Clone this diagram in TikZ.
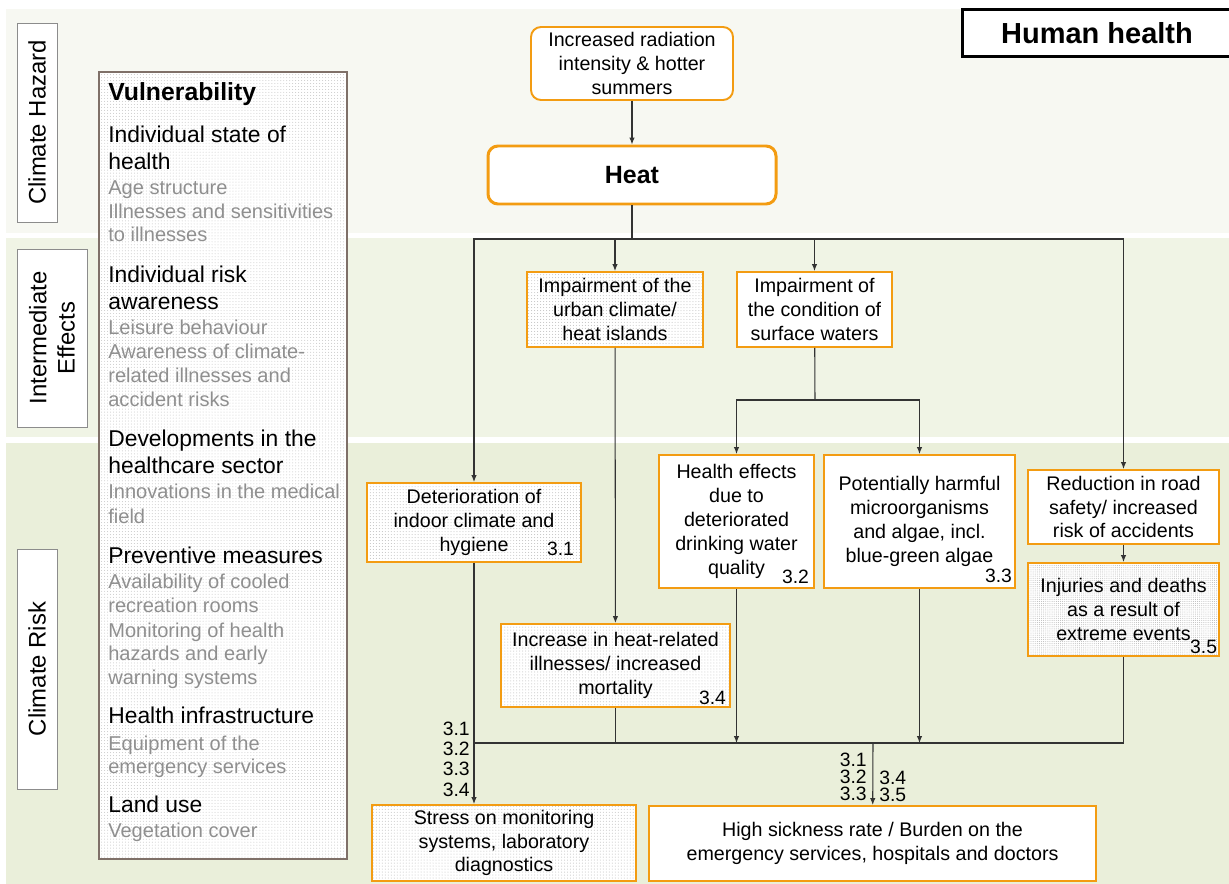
\documentclass[tikz,border=0pt]{standalone}
\usepackage{fontspec}
\setmainfont{Liberation Sans}
\usetikzlibrary{positioning, calc, arrows.meta, patterns.meta}
\definecolor{hazardbg}{HTML}{F7F8F2}
\definecolor{effectbg}{HTML}{F0F4E5}
\definecolor{riskbg}{HTML}{EAEFDA}
\definecolor{boxorange}{HTML}{F39C12}
\definecolor{vulframe}{HTML}{7F7068}
\definecolor{itemgrey}{HTML}{8F8F8F}
\definecolor{flowline}{HTML}{333333}
\tikzset{
    px/.style={x=0.02cm, y=-0.02cm},
    boxsize/.style 2 args={minimum width=#1*0.02cm, minimum height=#2*0.02cm},
    band label/.style={draw=black!45, fill=white, rotate=90, align=center, inner sep=0pt, font=\fontsize{13.6}{16}\selectfont},
    hazard node/.style={draw=boxorange, fill=white, line width=1.1pt, rounded corners=0.2cm, align=center, inner sep=0pt, font=\fontsize{11.2}{13.6}\selectfont},
    effect node/.style={draw=boxorange, fill=white, line width=1.1pt, align=center, inner sep=0pt, font=\fontsize{11.2}{13.6}\selectfont},
    dotted node/.style={draw=boxorange, line width=1.1pt, align=center, inner sep=0pt, font=\fontsize{11.2}{13.6}\selectfont, preaction={fill=white}, pattern={Dots[distance=1.7pt, radius=0.28pt]}, pattern color=black!25},
    dense node/.style={dotted node, pattern={Dots[distance=1.2pt, radius=0.28pt]}, pattern color=black!28},
    title node/.style={draw=black, fill=white, line width=1.7pt, inner sep=0pt, font=\fontsize{16.5}{19}\selectfont\bfseries},
    risk no/.style={anchor=south east, inner sep=1.5pt, font=\fontsize{11}{12}\selectfont},
    link no/.style={inner sep=0pt, align=right, font=\fontsize{11}{11.6}\selectfont},
    vtitle/.style={anchor=base west, inner sep=0pt, font=\fontsize{14.1}{17}\selectfont\bfseries},
    vhead/.style={anchor=base west, inner sep=0pt, font=\fontsize{13}{15}\selectfont},
    vitem/.style={anchor=base west, inner sep=0pt, text=itemgrey, font=\fontsize{11.4}{13.6}\selectfont},
    flow/.style={draw=flowline, line width=0.6pt},
    arrow/.style={flow, -{Latex[length=1.4mm, width=1.1mm]}},
}

\begin{document}
\begin{tikzpicture}[px]
    \useasboundingbox (0,0) rectangle (1229,884);
    % bands
    \fill[hazardbg] (6,9) rectangle (1229,233);
    \fill[effectbg] (6,238) rectangle (1229,437);
    \fill[riskbg] (6,443) rectangle (1229,884);
    \node[band label, boxsize={199}{40}] (hazard) at (37,122.5) {Climate Hazard};
    \node[band label, boxsize={178}{70}] (effects) at (52,338) {Intermediate\\Effects};
    \node[band label, boxsize={240}{40}] (risk) at (37,669) {Climate Risk};
    \node[title node, boxsize={270}{47}] (topic) at (1097,33.5) {Human health};

    % vulnerability
    \node[draw=vulframe, line width=1.1pt, preaction={fill=white}, pattern={Dots[distance=1.7pt, radius=0.28pt]}, pattern color=black!22, boxsize={248}{787}] (vul) at (223,465.5) {};
    \foreach \y/\s/\t in {101/vtitle/{Vulnerability},
        143/vhead/{Individual state of}, 170/vhead/{health},
        195/vitem/{Age structure}, 219/vitem/{Illnesses and sensitivities}, 242/vitem/{to illnesses},
        283/vhead/{Individual risk}, 310/vhead/{awareness},
        335/vitem/{Leisure behaviour}, 359/vitem/{Awareness of climate-}, 383/vitem/{related illnesses and}, 407/vitem/{accident risks},
        447/vhead/{Developments in the}, 474/vhead/{healthcare sector},
        499/vitem/{Innovations in the medical}, 523/vitem/{field},
        563/vhead/{Preventive measures},
        588/vitem/{Availability of cooled}, 612/vitem/{recreation rooms}, 637/vitem/{Monitoring of health}, 660/vitem/{hazards and early}, 684/vitem/{warning systems},
        723/vhead/{Health infrastructure},
        750/vitem/{Equipment of the}, 773/vitem/{emergency services},
        812/vhead/{Land use},
        837/vitem/{Vegetation cover}}
        \node[\s] (side-\y) at (108,\y) {\t};

    % flow boxes
    \node[hazard node, boxsize={202}{73}] (radiation) at (632,63.5) {Increased radiation\\intensity \& hotter\\summers};
    \node[hazard node, line width=1.7pt, boxsize={288}{58}, font=\fontsize{14.2}{17}\selectfont\bfseries] (heat) at (632,175) {Heat};
    \node[dotted node, boxsize={176}{75}] (urban) at (615,309.5) {Impairment of the\\urban climate/\\heat islands};
    \node[effect node, boxsize={155}{75}] (water) at (814.5,309.5) {Impairment of\\the condition of\\surface waters};
    \node[dotted node, boxsize={214}{79}] (indoor) at (474,522.5) {Deterioration of\\indoor climate and\\hygiene};
    \node[effect node, boxsize={155}{133}] (drinking) at (736.5,521.5) {Health effects\\due to\\deteriorated\\drinking water\\quality};
    \node[effect node, boxsize={191}{133}] (algae) at (919.5,521.5) {Potentially harmful\\microorganisms\\and algae, incl.\\blue-green algae};
    \node[effect node, boxsize={191}{74}] (road) at (1123.5,507) {Reduction in road\\safety/ increased\\risk of accidents};
    \node[dense node, boxsize={191}{93}] (injuries) at (1123.5,609.5) {Injuries and deaths\\as a result of\\extreme events};
    \node[dotted node, boxsize={229}{83}] (mortality) at (615.5,665.5) {Increase in heat-related\\illnesses/ increased\\mortality};
    \node[dotted node, boxsize={264}{76}] (stress) at (504,843) {Stress on monitoring\\systems, laboratory\\diagnostics};
    \node[effect node, boxsize={447}{75}] (sickness) at (872.5,843.5) {High sickness rate / Burden on the\\emergency services, hospitals and doctors};

    % risk numbers
    \node[risk no] (no31) at ($(indoor.south east)+(-5,-4)$) {3.1};
    \node[risk no] (no32) at ($(drinking.south east)+(-3,-2)$) {3.2};
    \node[risk no] (no33) at ($(algae.south east)+(-1,-3)$) {3.3};
    \node[risk no] (no34) at ($(mortality.south east)+(-2,0)$) {3.4};
    \node[risk no] (no35) at (injuries.south east) {3.5};

    % connectors
    \coordinate (split) at (632,239);
    \coordinate (wsplit) at (815,400);
    \coordinate (merge) at (873,743);
    \draw[arrow] (radiation) -- (heat);
    \draw[flow] (heat) -- (split);
    \draw[arrow] (split) -| (indoor);
    \draw[arrow] (split) -| (urban);
    \draw[arrow] (split) -| (water);
    \draw[arrow] (split) -| (road);
    \draw[flow] (water) -- (wsplit);
    \draw[arrow] (wsplit) -| (drinking);
    \draw[arrow] (wsplit) -| (algae);
    \draw[arrow] (urban) -- (mortality);
    \draw[arrow] (road) -- (injuries);
    \draw[arrow] (indoor) -- (indoor |- stress.north);
    \draw[flow] (indoor |- merge) -| (injuries);
    \draw[flow] (mortality) -- (mortality |- merge);
    \draw[arrow] (drinking) -- (drinking |- merge);
    \draw[arrow] (algae) -- (algae |- merge);
    \draw[arrow] (merge) -- (sickness);

    % connector numbers
    \node[link no, anchor=east] (lab-stress) at (470,759) {3.1\\3.2\\3.3\\3.4};
    \node[link no, anchor=east, font=\fontsize{11}{9.7}\selectfont] (lab-sick1) at (867,777) {3.1\\3.2\\3.3};
    \node[link no, anchor=west, align=left, font=\fontsize{11}{9.7}\selectfont] (lab-sick2) at (879,786) {3.4\\3.5};
\end{tikzpicture}
\end{document}
